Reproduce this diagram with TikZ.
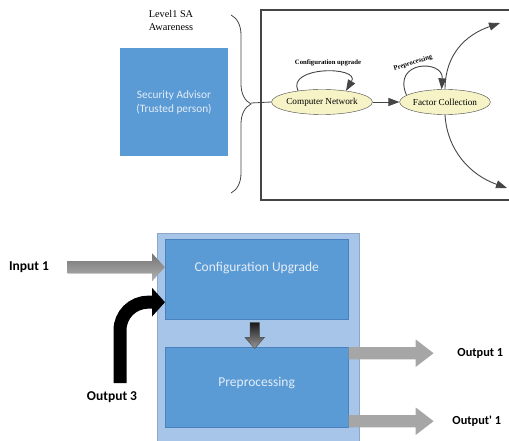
\documentclass[tikz,border=0pt]{standalone}
\usepackage{fontspec}
\setmainfont{Liberation Serif}
\newfontfamily\calibri{Carlito}
\usetikzlibrary{shapes, arrows.meta, calc, positioning, decorations.pathreplacing}
\definecolor{sablue}{HTML}{5B9BD5}
\definecolor{salightblue}{HTML}{A7C4E9}
\definecolor{saborder}{HTML}{4A80BD}
\definecolor{satext}{HTML}{E4EDF8}
\definecolor{ellyellow}{HTML}{F6F3C6}
\definecolor{framegray}{HTML}{454545}
\definecolor{arrowgray}{HTML}{A6A6A6}

\tikzset{
  saell/.style={draw=framegray, ellipse, fill=ellyellow, minimum width=87pt, minimum height=25pt, inner sep=0pt, font=\fontsize{9.2}{10}\selectfont},
  sabox/.style={draw=saborder, fill=sablue, anchor=north west, minimum width=183pt, minimum height=80pt},
  boxtext/.style={text=satext, font=\calibri\fontsize{13.5}{15}\selectfont},
  blockarrow/.style={single arrow, fill=arrowgray, inner sep=6pt, single arrow head extend=7.5pt, single arrow head indent=0pt},
  grafarrow/.style={-{Triangle[length=11pt,width=8pt]}, framegray, line width=0.9pt},
  looplabel/.style={font=\bfseries\fontsize{6.7}{7}\selectfont},
  iolabel/.style={font=\calibri\bfseries\fontsize{13.5}{15}\selectfont}
}

\begin{document}
\begin{tikzpicture}[x=1pt, y=-1pt]
    \useasboundingbox (0,0) rectangle (509,441);

    \begin{scope}
        \node[align=center, font=\fontsize{10.3}{13}\selectfont] (level) at (171,20) {Level1 SA\\Awareness};
        \node[fill=sablue, minimum width=108pt, minimum height=108pt, text=satext, align=center, font=\calibri\fontsize{11.3}{14}\selectfont] (advisor) at (174,102) {Security Advisor\\(Trusted person)};
        \draw[framegray, line width=0.8pt, decorate, decoration={brace, amplitude=20pt}] (231,15) -- (231,193);
        \coordinate (bracetip) at (251,103);

        \draw[framegray, line width=1.2pt] (261,10) rectangle (540,200);
        \node[saell] (cn) at (322,102) {Computer Network};
        \node[saell] (fc) at (445,102) {Factor Collection};
        \coordinate (uptip) at (500,23);
        \coordinate (downtip) at (507,188);

        \draw[framegray, line width=0.8pt] (bracetip) -- (cn.west);
        \draw[grafarrow] (cn.east) -- (fc.west);
        \draw[grafarrow] (cn.155) .. controls +(-12,-25) and +(15,-25) .. (cn.25);
        \draw[grafarrow] (fc.170) .. controls +(-15,-35) and +(2,-30) .. (fc.105);
        \draw[grafarrow] (fc.north) .. controls (445,55) and (465,35) .. (uptip);
        \draw[grafarrow] (fc.south) .. controls (447,150) and (470,175) .. (downtip);
        \node[looplabel] (cnlabel) at (328,63) {Configuration upgrade};
        \node[looplabel, rotate=17] (fclabel) at (413,63) {Preprocessing};
    \end{scope}

    \begin{scope}
        \node[draw=salightblue!85!black, fill=salightblue, anchor=north west, minimum width=202pt, minimum height=215pt] (outer) at (157,233) {};
        \node[sabox] (cfg) at (165,239) {};
        \node[sabox] (prep) at (165,347) {};
        \node[boxtext] (cfgtext) at ($(cfg.center)+(0,-11)$) {Configuration Upgrade};
        \node[boxtext] (preptext) at ($(prep.center)+(0,-4)$) {Preprocessing};

        \node[blockarrow, shape border rotate=270, inner sep=4.5pt, single arrow head extend=5pt, single arrow tip angle=82, minimum height=26pt, top color=black!90, bottom color=black!40, draw=black!70, anchor=tail] (down) at ($(cfg.south)+(-2,3)$) {};

        \node[blockarrow, single arrow tip angle=95, minimum height=97pt, top color=black!55, middle color=black!15, bottom color=black!30, anchor=tip] (inarrow) at ($(cfg.west)+(0,-12)$) {};
        \node[iolabel, anchor=east] (in1) at ($(inarrow.tail)+(-15,0)$) {Input 1};

        \node[iolabel] (out3) at (112,397) {Output 3};
        \coordinate (bendstart) at (120,383);
        \draw[black, line width=13pt, rounded corners=28pt, -{Triangle[length=13pt,width=28pt]}] (bendstart) |- ($(cfg.west)+(0,23)$);

        \node[blockarrow, single arrow tip angle=75, minimum height=85pt, anchor=tail] (outa) at ($(prep.east)+(0,-34)$) {};
        \node[blockarrow, single arrow tip angle=75, minimum height=85pt, anchor=tail] (outb) at ($(prep.east)+(0,34)$) {};
        \node[iolabel, anchor=west, font=\calibri\bfseries\fontsize{12.3}{14}\selectfont] (out1) at ($(outa.tip)+(20,0)$) {Output 1};
        \node[iolabel, anchor=west, font=\calibri\bfseries\fontsize{12.3}{14}\selectfont] (out1b) at ($(outb.tip)+(15,0)$) {Output' 1};
    \end{scope}
\end{tikzpicture}
\end{document}
